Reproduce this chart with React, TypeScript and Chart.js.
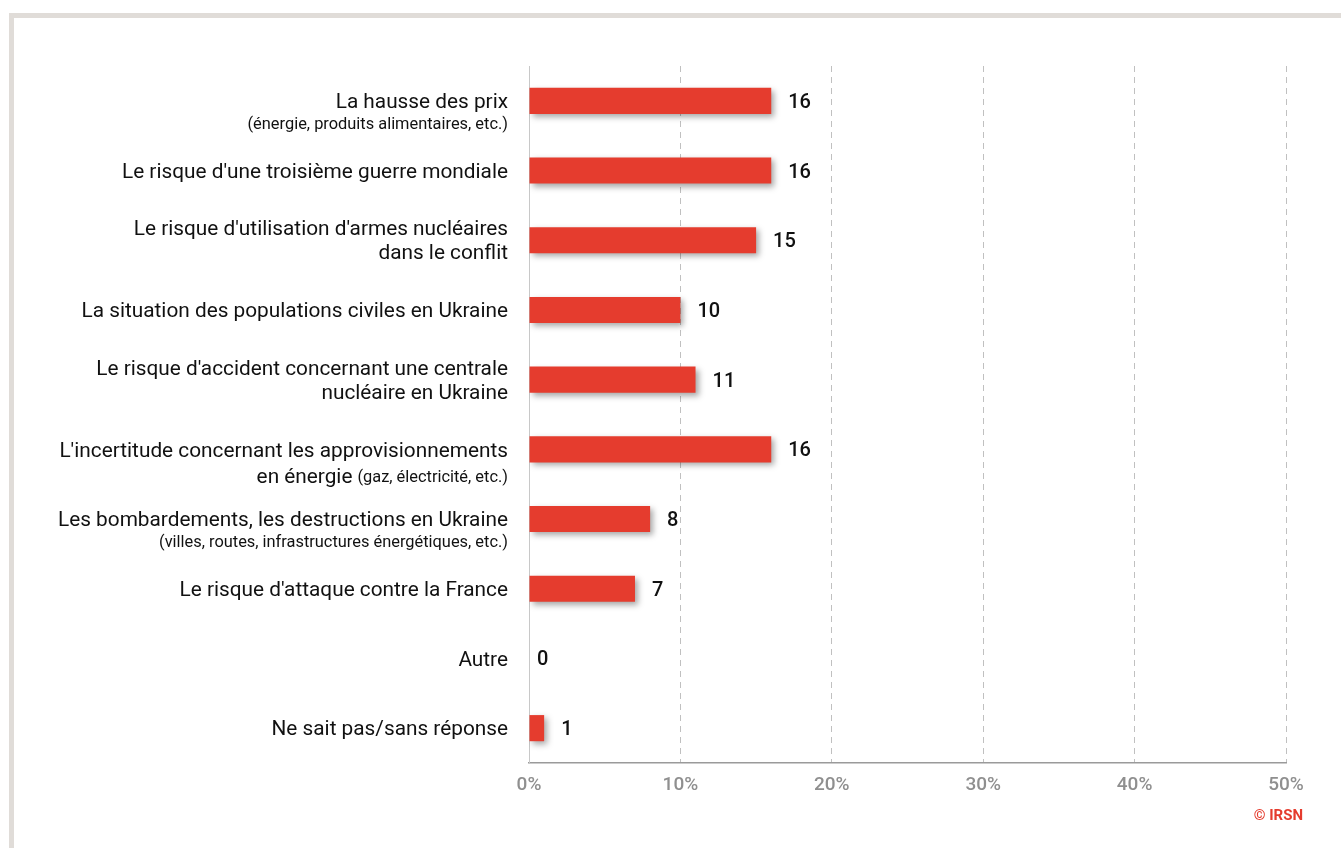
import { useEffect, useRef } from "react";
import { Chart, registerables } from "chart.js";

Chart.register(...registerables);

const categories = [
  "La hausse des prix",
  "Le risque d'une troisième guerre mondiale",
  "Le risque d'utilisation d'armes nucléaires dans le conflit",
  "La situation des populations civiles en Ukraine",
  "Le risque d'accident concernant une centrale nucléaire en Ukraine",
  "L'incertitude concernant les approvisionnements en énergie",
  "Les bombardements, les destructions en Ukraine",
  "Le risque d'attaque contre la France",
  "Autre",
  "Ne sait pas/sans réponse",
];

// Each label line: [main text, small note text]
const categoryLines: [string, string][][] = [
  [["La hausse des prix", ""], ["", "(énergie, produits alimentaires, etc.)"]],
  [["Le risque d'une troisième guerre mondiale", ""]],
  [["Le risque d'utilisation d'armes nucléaires", ""], ["dans le conflit", ""]],
  [["La situation des populations civiles en Ukraine", ""]],
  [["Le risque d'accident concernant une centrale", ""], ["nucléaire en Ukraine", ""]],
  [["L'incertitude concernant les approvisionnements", ""], ["en énergie", "(gaz, électricité, etc.)"]],
  [["Les bombardements, les destructions en Ukraine", ""], ["", "(villes, routes, infrastructures énergétiques, etc.)"]],
  [["Le risque d'attaque contre la France", ""]],
  [["Autre", ""]],
  [["Ne sait pas/sans réponse", ""]],
];

const values = [16, 16, 15, 10, 11, 16, 8, 7, 0, 1];

const tickValues = [0, 10, 20, 30, 40, 50];
const tickLabels = ["0%", "10%", "20%", "30%", "40%", "50%"];

const sourceText = "© IRSN";

const FONT = "Roboto, 'Noto Sans', sans-serif";
const BAR_COLOR = "#e53c2e";

export default function App() {
  const canvasRef = useRef<HTMLCanvasElement | null>(null);

  useEffect(() => {
    document.body.style.overflow = "hidden";
    const canvas = canvasRef.current;
    if (!canvas) return;

    const shadowPlugin = {
      id: "barShadow",
      beforeDatasetsDraw(chart: any) {
        const ctx = chart.ctx;
        ctx.save();
        ctx.shadowColor = "rgba(0,0,0,0.35)";
        ctx.shadowBlur = 6;
        ctx.shadowOffsetX = 3;
        ctx.shadowOffsetY = 3;
      },
      afterDatasetsDraw(chart: any) {
        const ctx = chart.ctx;
        ctx.restore();
        const meta = chart.getDatasetMeta(0);
        ctx.save();
        ctx.fillStyle = "#111";
        ctx.font = `500 20px ${FONT}`;
        ctx.textAlign = "left";
        ctx.textBaseline = "middle";
        meta.data.forEach((el: any, i: number) => {
          const v = values[i];
          const off = v > 0 ? 17 : 8;
          ctx.fillText(String(v), el.x + off, el.y + 2);
        });
        ctx.restore();
      },
    };

    const labelPlugin = {
      id: "richLabels",
      afterDraw(chart: any) {
        const ctx = chart.ctx;
        const yScale = chart.scales.y;
        const xRight = chart.chartArea.left - 21;
        ctx.save();
        ctx.fillStyle = "#111";
        ctx.textBaseline = "middle";
        ctx.textAlign = "right";
        const mainFont = `400 20.8px ${FONT}`;
        const noteFont = `400 16.4px ${FONT}`;
        categoryLines.forEach((lines, i) => {
          const cy = yScale.getPixelForValue(i) + 2;
          const hasNote = lines.some((l) => l[1] !== "");
          const heights = lines.map((l) => (l[0] === "" ? 21 : hasNote ? 26 : 24));
          let y: number;
          if (hasNote) {
            y = cy;
          } else {
            const total = heights.slice(1).reduce((a, b) => a + b, 0);
            y = cy - total / 2;
          }
          lines.forEach((line, j) => {
            if (j > 0) y += heights[j];
            const [main, note] = line;
            let x = xRight;
            if (note) {
              ctx.font = noteFont;
              ctx.fillText(note, x, y + 1);
              x -= ctx.measureText(note).width + 5;
            }
            if (main) {
              ctx.font = mainFont;
              ctx.fillText(main, x, y);
            }
          });
        });
        ctx.font = `700 15px ${FONT}`;
        ctx.fillStyle = "#e53c2e";
        ctx.textAlign = "right";
        ctx.fillText(sourceText, 1289, 798);
        ctx.restore();
      },
    };

    const chart = new Chart(canvas, {
      type: "bar",
      data: {
        labels: categories,
        datasets: [
          {
            data: values,
            backgroundColor: BAR_COLOR,
            borderWidth: 0,
            barPercentage: 0.75,
            categoryPercentage: 0.5,
          },
        ],
      },
      options: {
        indexAxis: "y",
        animation: false,
        responsive: false,
        maintainAspectRatio: false,
        layout: { padding: { top: 48, right: 55, left: 0, bottom: 0 } },
        plugins: {
          legend: { display: false },
          tooltip: { enabled: false },
          title: { display: false },
        },
        scales: {
          x: {
            min: 0,
            max: 50,
            afterBuildTicks(scale: any) {
              scale.ticks = tickValues.map((v) => ({ value: v }));
            },
            afterFit(scale: any) {
              scale.height = 85;
            },
            grid: {
              color: (c: any) => (c.tick && c.tick.value === 0 ? "rgba(0,0,0,0)" : "#c0c0c0"),
              lineWidth: 1,
              drawTicks: false,
            },
            border: { display: true, color: "#9a9a9a", width: 1.5, dash: [6, 5] },
            ticks: {
              padding: 11,
              color: "#8f8f8f",
              font: { family: FONT, size: 19, weight: "500" },
              callback: (_v: any, i: number) => tickLabels[i],
            },
          },
          y: {
            afterFit(scale: any) {
              scale.width = 515;
            },
            grid: { display: false, drawTicks: false },
            border: { display: true, color: "#c8c8c8", width: 1 },
            ticks: { display: false },
          },
        },
      },
      plugins: [shadowPlugin, labelPlugin],
    } as any);

    return () => chart.destroy();
  }, []);

  return (
    <div
      style={{
        position: "absolute",
        top: 13,
        left: 9,
        borderTop: "5px solid #e0dcd8",
        borderLeft: "5px solid #e0dcd8",
        width: 1327,
        height: 830,
        background: "#fff",
      }}
    >
      <canvas ref={canvasRef} width={1327} height={830} style={{ display: "block", width: 1327, height: 830 }} />
    </div>
  );
}
